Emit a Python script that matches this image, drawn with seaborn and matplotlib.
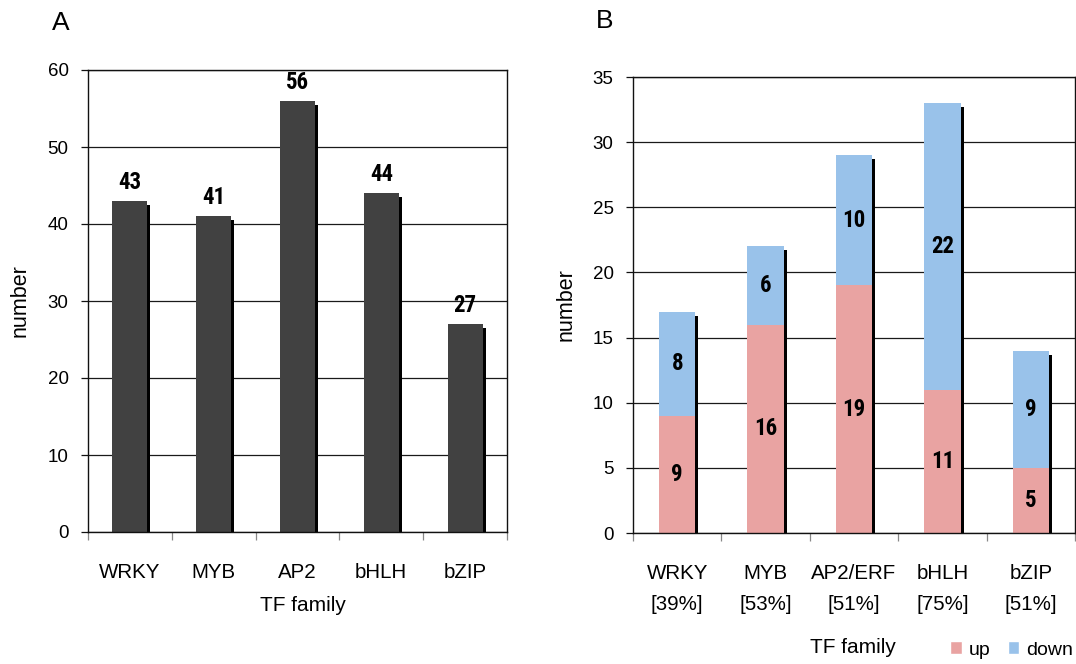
import matplotlib
matplotlib.use("Agg")
import matplotlib.pyplot as plt
import seaborn as sns
import numpy as np
from matplotlib.patches import Rectangle, Patch
from matplotlib.transforms import ScaledTranslation
from matplotlib import font_manager

# Panel A: number of TF genes per family
families_a = ["WRKY", "MYB", "AP2", "bHLH", "bZIP"]
counts_a = [43, 41, 56, 44, 27]

# Panel B: up / down regulated genes per family
families_b = ["WRKY", "MYB", "AP2/ERF", "bHLH", "bZIP"]
percent_b = ["39%", "53%", "51%", "75%", "51%"]
up_b = [9, 16, 19, 11, 5]
down_b = [8, 6, 10, 22, 9]

DARK = "#414141"
PINK = "#E9A3A2"
BLUE = "#99C2EA"

sns.set_theme(style="white")
plt.rcParams["font.family"] = ["Liberation Sans", "DejaVu Sans"]
plt.rcParams["text.color"] = "black"

# Narrow bold face for the value labels, when one is installed
fonts = font_manager.fontManager.ttflist
names = {f.name for f in fonts}
narrow = None
for cand in ["Liberation Sans Narrow", "Arial Narrow", "Roboto Condensed",
             "Open Sans Condensed", "Noto Sans Condensed"]:
    if cand in names:
        narrow = cand
        break
if narrow is None:
    for f in fonts:
        if ("Narrow" in f.name or "Condensed" in f.name) and "Mono" not in f.name:
            narrow = f.name
            break
VAL_FAM = [narrow, "Liberation Sans"] if narrow else ["Liberation Sans"]
VAL_SIZE = 16.5 if narrow else 14.5

W, H = 1076, 664
fig = plt.figure(figsize=(W / 100, H / 100), dpi=100)


def axes_px(left, top, right, bottom):
    return fig.add_axes([left / W, 1 - bottom / H, (right - left) / W, (bottom - top) / H])


def add_shadows(ax, bars, dx=3, dy=4):
    off = ScaledTranslation(dx / 100, -dy / 100, fig.dpi_scale_trans)
    for p in bars:
        ax.add_patch(Rectangle(p.get_xy(), p.get_width(), p.get_height(),
                               transform=ax.transData + off, facecolor="black",
                               edgecolor="none", zorder=0.95))


def style(ax, ymax, step, xpad):
    ax.set_xlim(-0.5, 4.5)
    ax.set_ylim(0, ymax)
    ax.set_yticks(np.arange(0, ymax + 1, step))
    ax.yaxis.grid(True, color="#1a1a1a", lw=0.9)
    ax.xaxis.grid(False)
    ax.set_axisbelow(True)
    for s in ax.spines.values():
        s.set_visible(True)
        s.set_color("#111111")
        s.set_linewidth(1.0)
    ax.tick_params(axis="y", left=True, length=5, width=0.9, color="#111111",
                   pad=9, labelsize=13.5, labelcolor="black")
    ax.set_xticks(np.arange(-0.5, 5.0, 1.0), minor=True)
    ax.tick_params(axis="x", which="minor", bottom=True, length=6, width=0.9, color="#888888")
    ax.tick_params(axis="x", which="major", bottom=False, length=0, pad=xpad,
                   labelsize=14.8, labelcolor="black")


# ---- Panel A ----
ax_a = axes_px(88, 70, 507, 532)
sns.barplot(x=families_a, y=counts_a, color=DARK, saturation=1, width=0.42,
            linewidth=0, ax=ax_a)
bars_a = ax_a.containers[0]
add_shadows(ax_a, bars_a)
ax_a.bar_label(bars_a, padding=5, fontsize=VAL_SIZE, fontweight="bold",
               color="black", family=VAL_FAM)
style(ax_a, 60, 10, 22)
ax_a.set_ylabel("number", fontsize=15.5, color="black")
ax_a.yaxis.label.set_va("center")
ax_a.yaxis.set_label_coords(-0.162, 0.5)
ax_a.set_xlabel("TF family", fontsize=15, color="black")
ax_a.xaxis.label.set_va("center")
ax_a.xaxis.set_label_coords(0.513, -0.160)

# ---- Panel B ----
ax_b = axes_px(633, 77, 1075, 533)
totals_b = [u + d for u, d in zip(up_b, down_b)]
labels_b = [f"{f}\n[{p}]" for f, p in zip(families_b, percent_b)]
sns.barplot(x=labels_b, y=totals_b, color=BLUE, saturation=1, width=0.41,
            linewidth=0, ax=ax_b)
sns.barplot(x=labels_b, y=up_b, color=PINK, saturation=1, width=0.41,
            linewidth=0, ax=ax_b)
add_shadows(ax_b, ax_b.containers[0])
for i, (u, d) in enumerate(zip(up_b, down_b)):
    ax_b.text(i, u / 2, str(u), ha="center", va="center", fontsize=VAL_SIZE,
              fontweight="bold", color="black", family=VAL_FAM)
    ax_b.text(i, u + d / 2, str(d), ha="center", va="center", fontsize=VAL_SIZE,
              fontweight="bold", color="black", family=VAL_FAM)
style(ax_b, 35, 5, 22)
for t in ax_b.get_xticklabels():
    t.set_linespacing(1.85)
ax_b.set_ylabel("number", fontsize=15.5, color="black")
ax_b.yaxis.label.set_va("center")
ax_b.yaxis.set_label_coords(-0.152, 0.5)
ax_b.set_xlabel("TF family", fontsize=15, color="black")
ax_b.xaxis.label.set_va("center")
ax_b.xaxis.set_label_coords(0.498, -0.252)

fig.legend(handles=[Patch(facecolor=PINK, label="up"), Patch(facecolor=BLUE, label="down")],
           loc="center left", bbox_to_anchor=(950 / W, 1 - 650 / H), ncol=2,
           frameon=False, fontsize=14, handlelength=0.6, handleheight=0.6,
           handletextpad=0.35, columnspacing=0.9, borderpad=0, borderaxespad=0)

fig.text(61 / W, 1 - 23 / H, "A", fontsize=19, ha="center", va="center")
fig.text(605 / W, 1 - 21 / H, "B", fontsize=19, ha="center", va="center")

fig.savefig("out.png", dpi=100, facecolor="white")
